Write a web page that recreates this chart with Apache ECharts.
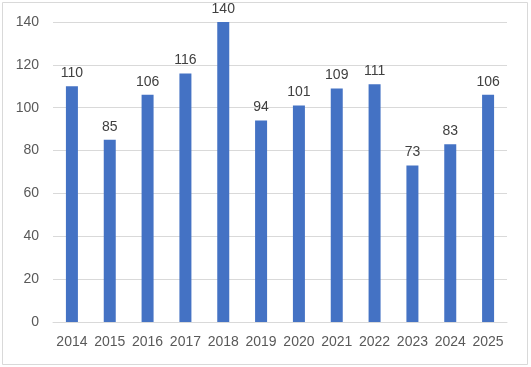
<!DOCTYPE html>
<html><head><meta charset="utf-8">
<script src="https://cdn.jsdelivr.net/npm/echarts@6/dist/echarts.min.js"></script>
<style>html,body{margin:0;padding:0;background:#fff}#c{width:531px;height:367px}</style>
</head><body><div id="c"></div>
<script>
const categories = ['2014','2015','2016','2017','2018','2019','2020','2021','2022','2023','2024','2025'];
const values = [110,85,106,116,140,94,101,109,111,73,83,106];
const yTicks = [0,20,40,60,80,100,120,140];

const chart = echarts.init(document.getElementById('c'), null, {renderer:'canvas'});
chart.setOption({
  animation:false,
  backgroundColor:'#fff',
  graphic:[{type:'rect',shape:{x:2.5,y:2.5,width:525,height:362},style:{fill:'none',stroke:'#D9D9D9',lineWidth:1},silent:true,z:-1}],
  grid:{left:53,right:24,top:22,bottom:45},
  xAxis:{type:'category',data:categories,
    axisLine:{lineStyle:{color:'#D9D9D9'}},axisTick:{show:false},
    axisLabel:{interval:0,color:'#595959',fontFamily:'Liberation Sans, Arial',fontSize:14,margin:13}},
  yAxis:{type:'value',min:0,max:140,interval:20,
    axisLine:{show:false},axisTick:{show:false},
    splitLine:{lineStyle:{color:'#D9D9D9'}},
    axisLabel:{color:'#595959',fontFamily:'Liberation Sans, Arial',fontSize:14,margin:14,
      formatter:v=>yTicks.includes(v)?String(v):''}},
  series:[{type:'bar',data:values,barWidth:12,itemStyle:{color:'#4472C4'},
    label:{show:true,position:'top',distance:6,color:'#404040',fontFamily:'Liberation Sans, Arial',fontSize:14}}]
});
</script></body></html>
